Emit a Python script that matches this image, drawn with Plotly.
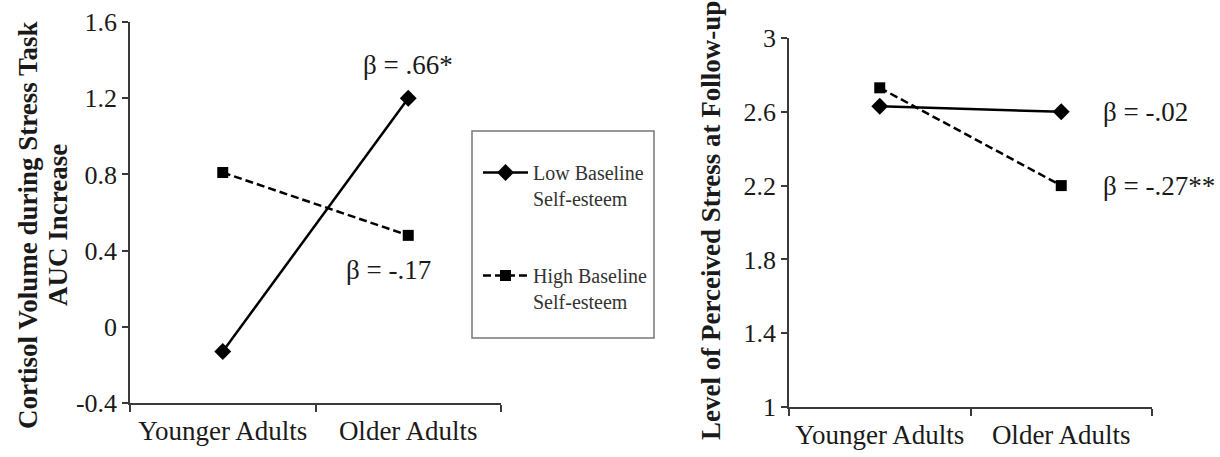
import plotly.graph_objects as go

# ---- data ----
groups = ["Younger Adults", "Older Adults"]
series_names = ["Low Baseline<br>Self-esteem", "High Baseline<br>Self-esteem"]
cortisol_low = [-0.13, 1.20]
cortisol_high = [0.81, 0.48]
stress_low = [2.63, 2.60]
stress_high = [2.73, 2.20]
left_ticks = [-0.4, 0, 0.4, 0.8, 1.2, 1.6]
left_ticktext = ["-0.4", "0", "0.4", "0.8", "1.2", "1.6"]
right_ticks = [1, 1.4, 1.8, 2.2, 2.6, 3]
right_ticktext = ["1", "1.4", "1.8", "2.2", "2.6", "3"]
left_betas = ["β = .66*", "β = -.17"]
right_betas = ["β = -.02", "β = -.27**"]
left_title_lines = ["Cortisol Volume during Stress Task", "AUC Increase"]
right_title = "Level of Perceived Stress at Follow-up"

W, H = 1220, 457
FONT = "Liberation Serif, Times New Roman, serif"
INK = "#1a1a1a"
AX = "#3a3a3a"

def px(x):
    return x / W

def py(y):
    return 1 - y / H

fig = go.Figure()

solid = dict(color="black", width=2.5)
dashed = dict(color="black", width=2.5, dash="8px,4px")
dia = dict(symbol="diamond", size=13, color="black")
sq = dict(symbol="square", size=11, color="black")

fig.add_trace(go.Scatter(x=groups, y=cortisol_low, mode="lines+markers", line=solid, marker=dia,
                         name=series_names[0], legendgroup="a", xaxis="x", yaxis="y"))
fig.add_trace(go.Scatter(x=groups, y=cortisol_high, mode="lines+markers", line=dashed, marker=sq,
                         name=series_names[1], legendgroup="b", xaxis="x", yaxis="y"))
fig.add_trace(go.Scatter(x=groups, y=stress_low, mode="lines+markers", line=solid, marker=dia,
                         showlegend=False, xaxis="x2", yaxis="y2"))
fig.add_trace(go.Scatter(x=groups, y=stress_high, mode="lines+markers", line=dashed, marker=sq,
                         showlegend=False, xaxis="x2", yaxis="y2"))

xcommon = dict(type="category", range=[-0.5, 1.5], tickson="boundaries", ticks="outside",
               ticklen=7, tickwidth=1.5, tickcolor=AX, showline=True, linecolor=AX, linewidth=1.5,
               showgrid=False, zeroline=False, tickfont=dict(family=FONT, size=27, color=INK),
               fixedrange=True, automargin=False, ticklabelstandoff=3)
ycommon = dict(ticks="outside", ticklen=6, tickwidth=1.5, tickcolor=AX, showline=True,
               linecolor=AX, linewidth=1.5, showgrid=False, zeroline=False,
               tickfont=dict(family=FONT, size=26, color=INK), fixedrange=True, automargin=False)

fig.update_layout(
    width=W, height=H,
    margin=dict(l=0, r=0, t=0, b=0, autoexpand=False),
    paper_bgcolor="white", plot_bgcolor="white",
    xaxis=dict(domain=[px(130), px(501)], anchor="y", **xcommon),
    yaxis=dict(domain=[py(403), py(22)], anchor="x", range=[-0.4, 1.6],
               tickvals=left_ticks, ticktext=left_ticktext, **ycommon),
    xaxis2=dict(domain=[px(789), px(1152)], anchor="y2", **xcommon),
    yaxis2=dict(domain=[py(407), py(38)], anchor="x2", range=[1, 3],
                tickvals=right_ticks, ticktext=right_ticktext, **ycommon),
    showlegend=True,
    legend=dict(x=px(478), y=py(153), xanchor="left", yanchor="top",
                font=dict(family=FONT, size=20, color="#333"),
                bgcolor="rgba(0,0,0,0)", borderwidth=0, valign="top",
                traceorder="grouped", tracegroupgap=48, itemwidth=45),
    shapes=[dict(type="rect", xref="paper", yref="paper", x0=px(472), x1=px(654),
                 y0=py(338), y1=py(131), line=dict(color="#777", width=1.5))],
)

ann_font = dict(family=FONT, size=27, color=INK)
title_font = dict(family=FONT, size=27, color=INK)
annotations = [
    dict(x=groups[1], y=cortisol_low[1], xref="x", yref="y", text=left_betas[0], showarrow=False,
         xanchor="center", yanchor="middle", yshift=33, font=ann_font),
    dict(x=groups[1], y=cortisol_high[1], xref="x", yref="y", text=left_betas[1], showarrow=False,
         xanchor="center", yanchor="middle", xshift=-20, yshift=-35, font=ann_font),
    dict(x=groups[1], y=stress_low[1], xref="x2", yref="y2", text=right_betas[0], showarrow=False,
         xanchor="left", yanchor="middle", xshift=40, font=ann_font),
    dict(x=groups[1], y=stress_high[1], xref="x2", yref="y2", text=right_betas[1], showarrow=False,
         xanchor="left", yanchor="middle", xshift=40, font=ann_font),
    dict(x=px(28), y=py(225), xref="paper", yref="paper", textangle=-90,
         text="<b>" + left_title_lines[0] + "</b>", showarrow=False,
         xanchor="center", yanchor="middle", font=title_font),
    dict(x=px(58), y=py(225), xref="paper", yref="paper", textangle=-90,
         text="<b>" + left_title_lines[1] + "</b>", showarrow=False,
         xanchor="center", yanchor="middle", font=title_font),
    dict(x=px(711), y=py(221), xref="paper", yref="paper", textangle=-90,
         text="<b>" + right_title + "</b>", showarrow=False,
         xanchor="center", yanchor="middle", font=title_font),
]
fig.update_layout(annotations=annotations)

fig.write_html("out.html", config={"displayModeBar": False},
               post_script="document.body.style.margin='0';")
